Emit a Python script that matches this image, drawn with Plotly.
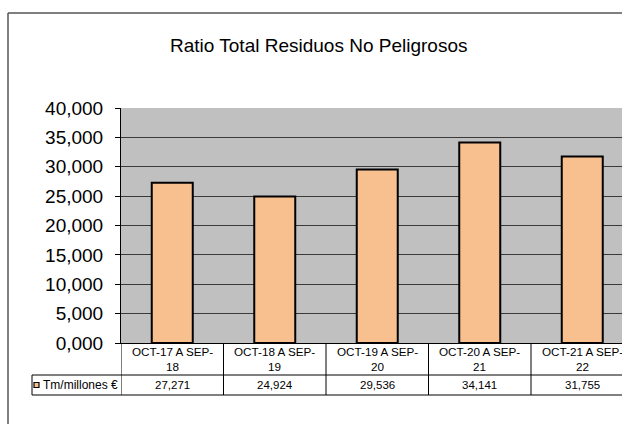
import plotly.graph_objects as go

categories = ["OCT-17 A SEP-18", "OCT-18 A SEP-19", "OCT-19 A SEP-20", "OCT-20 A SEP-21", "OCT-21 A SEP-22"]
header_labels = ["OCT-17 A SEP-<br>18", "OCT-18 A SEP-<br>19", "OCT-19 A SEP-<br>20", "OCT-20 A SEP-<br>21", "OCT-21 A SEP-<br>22"]
values = [27.271, 24.924, 29.536, 34.141, 31.755]
value_labels = ["27,271", "24,924", "29,536", "34,141", "31,755"]
tick_vals = [0, 5, 10, 15, 20, 25, 30, 35, 40]
tick_text = ["0,000", "5,000", "10,000", "15,000", "20,000", "25,000", "30,000", "35,000", "40,000"]
series_name = "Tm/millones €"
title = "Ratio Total Residuos No Peligrosos"

W, H = 622, 424
FONT = "Liberation Sans, Arial, sans-serif"
BAR_COLOR = "#F9C08F"

def py(p):
    return 1 - p / H

def px(p):
    return p / W

plot_left, plot_top, plot_bottom = 121, 108, 343
cat_w = 102.5
n = len(categories)
x0 = -0.5
x1 = x0 + (W - plot_left) / cat_w

fig = go.Figure()
fig.add_trace(go.Bar(
    x=list(range(n)), y=values, width=0.4,
    marker=dict(color=BAR_COLOR, line=dict(color="black", width=2)),
    name=series_name, showlegend=False, hoverinfo="y",
))

shapes = []
row1_bot, row2_bot = 375, 395
# outer frame
shapes.append(dict(type="line", xref="paper", yref="paper", x0=px(8), x1=px(8), y0=py(13), y1=0,
                   line=dict(color="#555555", width=1.5)))
shapes.append(dict(type="line", xref="paper", yref="paper", x0=px(8), x1=1, y0=py(13), y1=py(13),
                   line=dict(color="#555555", width=1.5)))
# table horizontals
shapes.append(dict(type="line", xref="paper", yref="paper", x0=px(32), x1=1, y0=py(row1_bot), y1=py(row1_bot),
                   line=dict(color="black", width=1)))
shapes.append(dict(type="line", xref="paper", yref="paper", x0=px(32), x1=1, y0=py(row2_bot), y1=py(row2_bot),
                   line=dict(color="black", width=1)))
shapes.append(dict(type="line", xref="paper", yref="paper", x0=px(32), x1=px(32), y0=py(row1_bot), y1=py(row2_bot),
                   line=dict(color="black", width=1)))
# table verticals at category boundaries
for i in range(n):
    b = i - 0.5
    shapes.append(dict(type="line", xref="x", yref="paper", x0=b, x1=b, y0=py(plot_bottom), y1=py(row2_bot),
                       line=dict(color="black", width=1)))
# legend marker
shapes.append(dict(type="rect", xref="paper", yref="paper", x0=px(34), x1=px(39), y0=py(382.5), y1=py(387.5),
                   fillcolor=BAR_COLOR, line=dict(color="black", width=1.2)))

annotations = []
annotations.append(dict(text=title, xref="paper", yref="paper", x=px(318), y=py(45), showarrow=False,
                        font=dict(family=FONT, size=19, color="black"), xanchor="center", yanchor="middle"))
for i in range(n):
    annotations.append(dict(text=header_labels[i], xref="x", yref="paper", x=i, y=py(359), showarrow=False,
                            font=dict(family=FONT, size=11.7, color="black"), xanchor="center", yanchor="middle"))
    annotations.append(dict(text=value_labels[i], xref="x", yref="paper", x=i, y=py(385), showarrow=False,
                            font=dict(family=FONT, size=11.5, color="black"), xanchor="center", yanchor="middle"))
annotations.append(dict(text=series_name, xref="paper", yref="paper", x=px(40.5), y=py(385), showarrow=False,
                        font=dict(family=FONT, size=12, color="black"), xanchor="left", yanchor="middle"))

fig.update_layout(
    width=W, height=H,
    autosize=False,
    margin=dict(l=0, r=0, t=0, b=0, pad=0),
    paper_bgcolor="white",
    plot_bgcolor="#C0C0C0",
    font=dict(family=FONT, color="black"),
    showlegend=False,
    bargap=0.6,
    xaxis=dict(domain=[px(plot_left), 1], range=[x0, x1], showticklabels=False, showgrid=False,
               zeroline=False, showline=True, linecolor="black", linewidth=1, ticks="", automargin=False),
    yaxis=dict(domain=[py(plot_bottom), py(plot_top)], range=[0, 40], tickvals=tick_vals, ticktext=tick_text,
               showgrid=True, gridcolor="#3a3a3a", gridwidth=1, zeroline=False, automargin=False,
               showline=True, linecolor="black", linewidth=1, ticks="outside", ticklen=5, tickcolor="black",
               tickfont=dict(family=FONT, size=19, color="black"), ticklabelstandoff=8),
    shapes=shapes,
    annotations=annotations,
)

fig.write_html(
    "out.html",
    config={"responsive": False, "displayModeBar": False},
    post_script="document.body.style.margin='0';document.body.style.overflow='hidden';",
)
